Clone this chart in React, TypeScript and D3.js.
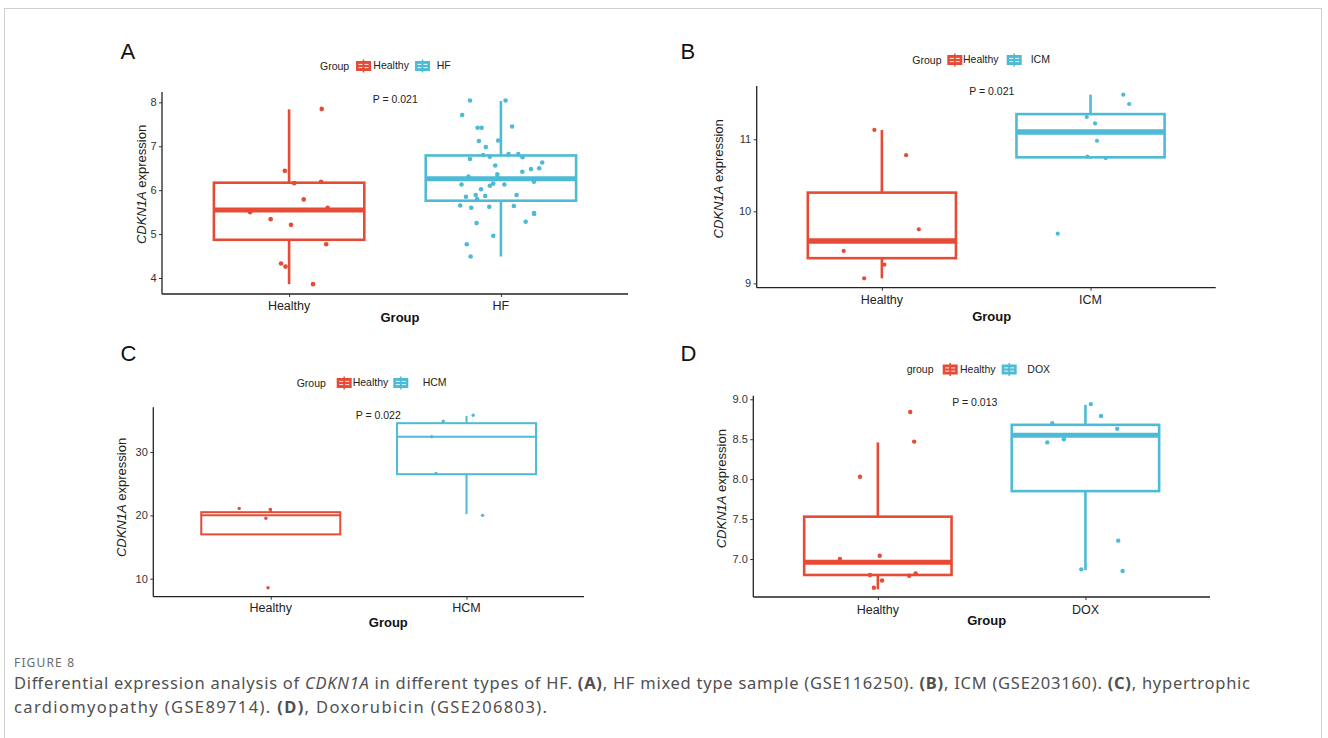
import * as d3 from 'd3';
import React, { useEffect, useRef } from 'react';

const RED = '#E64B35';
const BLUE = '#4DBBD5';
const FONT = 'Liberation Sans, Arial, Helvetica, sans-serif';

// panel A: HF mixed type (GSE116250)
const groupsA = ['Healthy', 'HF'];
const healthyA = [7.85, 6.44, 6.16, 6.19, 5.79, 5.6, 5.5, 5.34, 5.21, 4.77, 4.33, 4.26, 3.86];
const healthyAJitter = [0.154, -0.02, 0.024, 0.151, 0.069, 0.182, -0.184, -0.087, 0.009, 0.175, -0.038, -0.017, 0.113];
const hfA = [
  8.04, 8.04, 7.71, 7.42, 7.42, 7.45, 7.12, 7.13, 6.98, 6.71, 6.8, 6.76, 6.82, 6.82, 6.75,
  6.63, 6.56, 6.42, 6.48, 6.5, 6.31, 6.36, 6.28, 6.19, 6.13, 6.15, 6.1, 6.13, 6.02, 5.85,
  5.89, 5.8, 5.87, 5.89, 5.65, 5.6, 5.62, 5.64, 5.48, 5.46, 5.25, 5.28, 4.96, 4.77, 4.49,
];
const hfAJitter = [
  -0.146, 0.022, -0.183, -0.11, -0.091, 0.053, -0.104, -0.013, -0.071, -0.146, -0.084, -0.052, 0.036, 0.082, 0.102,
  0.195, -0.027, 0.101, 0.142, 0.181, -0.153, -0.017, -0.016, 0.156, -0.186, -0.036, -0.052, 0.016, -0.094, -0.165,
  -0.119, -0.112, -0.074, 0.074, -0.192, -0.14, -0.055, 0.061, 0.156, 0.157, -0.115, 0.117, -0.036, -0.161, -0.143,
];
// [lower whisker, q1, median, q3, upper whisker]
const boxA = [[3.86, 4.87, 5.55, 6.17, 7.84], [4.49, 5.76, 6.26, 6.79, 8.03]];
const ticksA = [4, 5, 6, 7, 8];

// panel B: ICM (GSE203160)
const groupsB = ['Healthy', 'ICM'];
const healthyB = [11.13, 10.78, 9.75, 9.45, 9.26, 9.07];
const healthyBJitter = [-0.036, 0.116, 0.177, -0.183, 0.012, -0.085];
const icmB = [11.62, 11.49, 11.31, 11.22, 10.98, 10.76, 10.74, 9.69];
const icmBJitter = [0.157, 0.185, -0.018, 0.022, 0.031, -0.015, 0.073, -0.157];
const boxB = [[9.07, 9.35, 9.59, 10.26, 11.13], [10.73, 10.75, 11.1, 11.35, 11.62]];
const ticksB = [9, 10, 11];

// panel C: hypertrophic cardiomyopathy (GSE89714)
const groupsC = ['Healthy', 'HCM'];
const healthyC = [21.1, 20.95, 19.55, 8.58];
const healthyCJitter = [-0.161, -0.003, -0.025, -0.014];
const hcmC = [35.8, 34.85, 32.4, 26.6, 20.0];
const hcmCJitter = [0.034, -0.119, -0.178, -0.156, 0.082];
const boxC = [[17.0, 17.0, 20.0, 20.5, 21.1], [20.2, 26.5, 32.4, 34.55, 35.7]];
const ticksC = [10, 20, 30];

// panel D: Doxorubicin (GSE206803)
const groupsD = ['Healthy', 'DOX'];
const healthyD = [8.84, 8.47, 8.03, 7.04, 7.0, 6.8, 6.79, 6.82, 6.73, 6.64];
const healthyDJitter = [0.156, 0.175, -0.086, 0.009, -0.183, -0.038, 0.151, 0.182, 0.02, -0.019];
const doxD = [8.94, 8.79, 8.7, 8.63, 8.46, 8.5, 7.23, 6.87, 6.85];
const doxDJitter = [0.026, 0.075, -0.16, 0.153, -0.184, -0.104, 0.158, -0.02, 0.179];
const boxD = [[6.62, 6.8, 6.96, 7.53, 8.46], [6.86, 7.85, 8.55, 8.68, 8.93]];
const ticksD = [7.0, 7.5, 8.0, 8.5, 9.0];

const panels = [
  {
    letter: 'A', groups: groupsA, values: [healthyA, hfA], jitter: [healthyAJitter, hfAJitter], boxes: boxA,
    ticks: ticksA, fmt: d3.format('d'), domain: [3.636, 8.235], p: 'P = 0.021', legendTitle: 'Group',
    x0: 162, x1: 628, y0: 92, y1: 294, letterPos: [120.5, 59], legendY: 66, titleX: 320, keyX: [356, 415], labelX: [373.3, 436.7],
    pPos: [372.7, 99], yLab: [141.7, 184.5], tickY: 306, xTitle: [400, 317], r: 2.3, lw: 2.6, mw: 5,
  },
  {
    letter: 'B', groups: groupsB, values: [healthyB, icmB], jitter: [healthyBJitter, icmBJitter], boxes: boxB,
    ticks: ticksB, fmt: d3.format('d'), domain: [8.94, 11.74], p: 'P = 0.021', legendTitle: 'Group',
    x0: 756.7, x1: 1215.7, y0: 86, y1: 287.7, letterPos: [680.5, 59], legendY: 60, titleX: 912.3, keyX: [947.3, 1006.7], labelX: [963, 1030.7],
    pPos: [969.3, 91], yLab: [718.3, 178.8], tickY: 300, xTitle: [991.7, 316], r: 2.1, lw: 2.6, mw: 5.5,
  },
  {
    letter: 'C', groups: groupsC, values: [healthyC, hcmC], jitter: [healthyCJitter, hcmCJitter], boxes: boxC,
    ticks: ticksC, fmt: d3.format('d'), domain: [7.16, 37.06], p: 'P = 0.022', legendTitle: 'Group',
    x0: 153.3, x1: 584, y0: 407.3, y1: 596.7, letterPos: [120.5, 361], legendY: 383, titleX: 296.7, keyX: [336.7, 393.3], labelX: [352.7, 422.7],
    pPos: [355.7, 415], yLab: [121.7, 497.5], tickY: 608, xTitle: [388.3, 622.5], r: 1.7, lw: 2, mw: 2,
  },
  {
    letter: 'D', groups: groupsD, values: [healthyD, doxD], jitter: [healthyDJitter, doxDJitter], boxes: boxD,
    ticks: ticksD, fmt: d3.format('.1f'), domain: [6.524, 9.045], p: 'P = 0.013', legendTitle: 'group',
    x0: 753.3, x1: 1210, y0: 395.7, y1: 597, letterPos: [680.5, 361], legendY: 369.5, titleX: 906.7, keyX: [942.7, 1001.7], labelX: [960, 1027.3],
    pPos: [952.3, 402.7], yLab: [721.7, 488.7], tickY: 609.5, xTitle: [986.7, 620.5], r: 2.2, lw: 2.6, mw: 5,
  },
];

const colors = [RED, BLUE];

function drawPanel(svg, cfg) {
  const g = svg.append('g');

  // ggplot discrete axis: categories at 1 and 2, expanded 0.6 each side
  const x = d3.scalePoint().domain(cfg.groups).range([cfg.x0, cfg.x1]).padding(0.6);
  const y = d3.scaleLinear().domain(cfg.domain).range([cfg.y1, cfg.y0]);
  const step = x.step();
  const bw = step * 0.71;

  // panel letter
  g.append('text')
    .attr('x', cfg.letterPos[0]).attr('y', cfg.letterPos[1])
    .attr('font-size', 22).attr('font-family', FONT).attr('fill', '#111')
    .text(cfg.letter);

  // legend
  const leg = g.append('g').attr('font-family', FONT).attr('font-size', 10.5).attr('fill', '#222');
  leg.append('text').attr('x', cfg.titleX).attr('y', cfg.legendY).attr('dy', '0.35em').text(cfg.legendTitle);
  cfg.groups.forEach((name, i) => {
    const kx = cfg.keyX[i];
    const ky = cfg.legendY;
    const key = leg.append('g');
    key.append('line').attr('x1', kx + 7.5).attr('x2', kx + 7.5).attr('y1', ky - 6.5).attr('y2', ky + 6.5)
      .attr('stroke', colors[i]).attr('stroke-width', 1.5);
    key.append('rect').attr('x', kx).attr('y', ky - 5).attr('width', 15).attr('height', 10)
      .attr('fill', colors[i]);
    [-1.6, 1.6].forEach((dy) => {
      key.append('line').attr('x1', kx + 2.5).attr('x2', kx + 12.5).attr('y1', ky + dy).attr('y2', ky + dy)
        .attr('stroke', '#fff').attr('stroke-width', 0.9).attr('stroke-dasharray', '4,2');
    });
    leg.append('text').attr('x', cfg.labelX[i]).attr('y', ky).attr('dy', '0.33em').text(name);
  });

  // boxes
  cfg.boxes.forEach(([lo, q1, med, q3, hi], i) => {
    const cx = x(cfg.groups[i]);
    const bg = g.append('g').attr('stroke', colors[i]).attr('fill', 'none');
    bg.append('line').attr('x1', cx).attr('x2', cx).attr('y1', y(q3)).attr('y2', y(hi)).attr('stroke-width', cfg.lw);
    bg.append('line').attr('x1', cx).attr('x2', cx).attr('y1', y(q1)).attr('y2', y(lo)).attr('stroke-width', cfg.lw);
    bg.append('rect')
      .attr('x', cx - bw / 2).attr('y', y(q3)).attr('width', bw).attr('height', y(q1) - y(q3))
      .attr('fill', '#fff').attr('stroke-width', cfg.lw);
    bg.append('line').attr('x1', cx - bw / 2).attr('x2', cx + bw / 2).attr('y1', y(med)).attr('y2', y(med))
      .attr('stroke-width', cfg.mw);
  });

  // jittered points
  cfg.values.forEach((vals, i) => {
    g.append('g').selectAll('circle')
      .data(vals)
      .enter()
      .append('circle')
      .attr('cx', (d, j) => x(cfg.groups[i]) + cfg.jitter[i][j] * step)
      .attr('cy', (d) => y(d))
      .attr('r', cfg.r)
      .attr('fill', colors[i]);
  });

  // axes
  const yAxis = g.append('g')
    .attr('transform', `translate(${cfg.x0},0)`)
    .call(d3.axisLeft(y).tickValues(cfg.ticks).tickFormat(cfg.fmt).tickSize(3).tickPadding(2.5));
  yAxis.select('.domain').attr('d', `M0,${cfg.y0}V${cfg.y1}`).attr('stroke', '#222').attr('stroke-width', 1.3);

  const xAxis = g.append('g')
    .attr('transform', `translate(0,${cfg.y1})`)
    .call(d3.axisBottom(x).tickSize(3).tickPadding(4));
  xAxis.select('.domain').attr('d', `M${cfg.x0},0H${cfg.x1}`).attr('stroke', '#222').attr('stroke-width', 1.3);
  xAxis.selectAll('text').remove();

  [yAxis, xAxis].forEach((ax) => {
    ax.selectAll('.tick line').attr('stroke', '#333');
    ax.selectAll('.tick text').attr('fill', '#333').attr('font-size', 11).attr('font-family', FONT);
  });

  cfg.groups.forEach((name) => {
    g.append('text')
      .attr('x', x(name)).attr('y', cfg.tickY).attr('dy', '0.35em')
      .attr('text-anchor', 'middle').attr('font-family', FONT).attr('font-size', 12.5).attr('fill', '#222')
      .text(name);
  });

  // axis titles
  g.append('text')
    .attr('x', cfg.xTitle[0]).attr('y', cfg.xTitle[1]).attr('dy', '0.35em')
    .attr('text-anchor', 'middle').attr('font-family', FONT).attr('font-size', 13).attr('font-weight', 'bold').attr('fill', '#111')
    .text('Group');

  const yl = g.append('text')
    .attr('transform', `translate(${cfg.yLab[0]},${cfg.yLab[1]}) rotate(-90)`)
    .attr('dy', '0.35em')
    .attr('text-anchor', 'middle').attr('font-family', FONT).attr('font-size', 13).attr('fill', '#222');
  yl.append('tspan').attr('font-style', 'italic').text('CDKN1A');
  yl.append('tspan').text(' expression');

  // p value
  g.append('text')
    .attr('x', cfg.pPos[0]).attr('y', cfg.pPos[1]).attr('dy', '0.35em')
    .attr('font-family', FONT).attr('font-size', 10.5).attr('fill', '#222')
    .text(cfg.p);
}

function Figure() {
  const ref = useRef(null);

  useEffect(() => {
    const svg = d3.select(ref.current);
    svg.selectAll('*').remove();

    svg.append('rect')
      .attr('x', 4.5).attr('y', 8.5).attr('width', 1317).attr('height', 760)
      .attr('fill', '#fff').attr('stroke', '#cfcfcf').attr('stroke-width', 1);

    panels.forEach((cfg) => drawPanel(svg, cfg));

    // caption
    const cap = svg.append('g').attr('font-family', 'Noto Sans, Open Sans, sans-serif').attr('fill', '#505050');
    cap.append('text').attr('x', 14).attr('y', 667).attr('font-size', 12).attr('fill', '#6a6a6a')
      .attr('textLength', 60).attr('lengthAdjust', 'spacing').text('FIGURE 8');

    const line1 = cap.append('text').attr('x', 14).attr('y', 689).attr('font-size', 16.5)
      .attr('textLength', 1236).attr('lengthAdjust', 'spacing');
    line1.append('tspan').text('Differential expression analysis of ');
    line1.append('tspan').attr('font-style', 'italic').text('CDKN1A');
    line1.append('tspan').text(' in different types of HF. ');
    line1.append('tspan').attr('font-weight', 'bold').text('(A)');
    line1.append('tspan').text(', HF mixed type sample (GSE116250). ');
    line1.append('tspan').attr('font-weight', 'bold').text('(B)');
    line1.append('tspan').text(', ICM (GSE203160). ');
    line1.append('tspan').attr('font-weight', 'bold').text('(C)');
    line1.append('tspan').text(', hypertrophic');

    const line2 = cap.append('text').attr('x', 14).attr('y', 713).attr('font-size', 16.5)
      .attr('textLength', 533).attr('lengthAdjust', 'spacing');
    line2.append('tspan').text('cardiomyopathy (GSE89714). ');
    line2.append('tspan').attr('font-weight', 'bold').text('(D)');
    line2.append('tspan').text(', Doxorubicin (GSE206803).');
  }, []);

  return <svg ref={ref} width={1328} height={738} style={{ display: 'block' }} />;
}

export default function App() {
  return (
    <div style={{ position: 'absolute', left: 0, top: 0, width: 1328, height: 738, overflow: 'hidden', background: '#fff' }}>
      <Figure />
    </div>
  );
}
